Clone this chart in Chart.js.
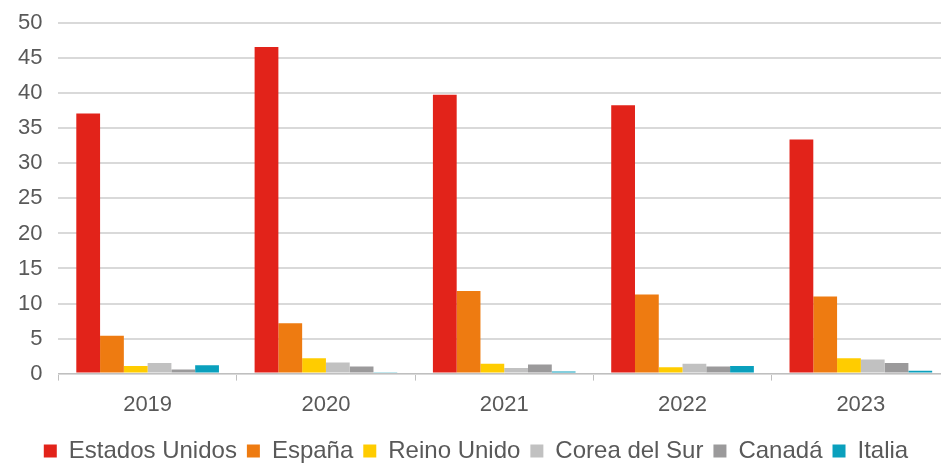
<!DOCTYPE html>
<html>
<head>
<meta charset="utf-8">
<script src="https://cdn.jsdelivr.net/npm/chart.js@4/dist/chart.umd.min.js"></script>
<style>
  html, body { margin: 0; padding: 0; background: #fff; overflow: hidden; }
  #wrap { position: relative; width: 952px; height: 479px; top: -6px; }
</style>
</head>
<body>
<div id="wrap"><canvas id="chart"></canvas></div>
<script>
// Categories and series
const years = ['2019', '2020', '2021', '2022', '2023']
const estadosUnidos = [37.1, 46.6, 39.8, 38.3, 33.4]
const espana = [5.4, 7.2, 11.8, 11.3, 11.0]
const reinoUnido = [1.1, 2.2, 1.4, 0.9, 2.2]
const coreaDelSur = [1.5, 1.6, 0.8, 1.4, 2.0]
const canada = [0.6, 1.0, 1.3, 1.0, 1.5]
const italia = [1.2, 0.2, 0.3, 1.1, 0.4]

const textColor = '#595959'
const font = { family: '"Liberation Sans", Arial, sans-serif', size: 22 }

function series(label, data, color) {
  return {
    label,
    data,
    backgroundColor: color,
    borderWidth: 0,
    categoryPercentage: 0.8,
    barPercentage: 1.0
  }
}

new Chart(document.getElementById('chart').getContext('2d'), {
  type: 'bar',
  data: {
    labels: years,
    datasets: [
      series('Estados Unidos', estadosUnidos, '#e2231a'),
      series('España', espana, '#ee7b11'),
      series('Reino Unido', reinoUnido, '#ffcc00'),
      series('Corea del Sur', coreaDelSur, '#c1c1c1'),
      series('Canadá', canada, '#9b9a9b'),
      series('Italia', italia, '#0aa0bd')
    ]
  },
  options: {
    responsive: true,
    maintainAspectRatio: false,
    animation: false,
    layout: { padding: { top: 0, left: 2, right: 2, bottom: 0 } },
    scales: {
      x: {
        grid: {
          offset: true,
          drawOnChartArea: false,
          drawTicks: true,
          tickLength: 7,
          color: '#bfbfbf',
          lineWidth: 1
        },
        border: { color: '#bfbfbf', width: 1 },
        ticks: { color: textColor, font, padding: 11 }
      },
      y: {
        min: 0,
        max: 50,
        ticks: { stepSize: 5, color: textColor, font, padding: 16 },
        grid: { color: '#d9d9d9', lineWidth: 2, drawTicks: false },
        border: { display: false }
      }
    },
    plugins: {
      legend: {
        position: 'bottom',
        labels: {
          color: textColor,
          font: { family: font.family, size: 24 },
          boxWidth: 13,
          boxHeight: 13,
          padding: 10
        }
      },
      tooltip: { enabled: false }
    }
  }
})
</script>
</body>
</html>
